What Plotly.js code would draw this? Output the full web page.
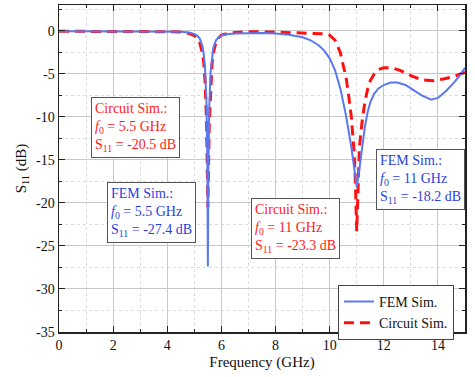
<!DOCTYPE html>
<html><head><meta charset="utf-8">
<script src="https://cdn.plot.ly/plotly-3.0.1.min.js"></script>
<style>html,body{margin:0;padding:0;background:#fff}#chart{width:475px;height:377px}</style>
</head><body><div id="chart"></div>
<script>
const femFreq = [0,1,2,3,4,4.5,4.8,5.0,5.1,5.2,5.3,5.35,5.4,5.45,5.48,5.5,5.52,5.55,5.6,5.65,5.7,5.8,5.9,6.0,6.2,6.5,7,7.5,8,8.5,9,9.3,9.6,9.8,10,10.2,10.4,10.6,10.8,10.9,11.0,11.1,11.2,11.3,11.4,11.5,11.65,11.8,12.0,12.25,12.5,12.8,13.1,13.4,13.75,14.0,14.3,14.6,14.8,15];
const femS11 = [-0.05,-0.05,-0.05,-0.05,-0.08,-0.12,-0.2,-0.35,-0.55,-0.9,-1.8,-2.8,-4.5,-8.5,-15,-27.4,-16,-9,-4.8,-3,-2,-1.1,-0.75,-0.55,-0.4,-0.3,-0.25,-0.25,-0.3,-0.45,-0.75,-1.1,-1.7,-2.3,-3.2,-4.6,-6.8,-9.8,-13.5,-16,-18.2,-16,-13.5,-11.2,-9.5,-8.3,-7.3,-6.7,-6.3,-6.0,-6.0,-6.3,-6.9,-7.5,-8.0,-7.8,-7.0,-6.0,-5.2,-4.3];
const cirFreq = [0,1,2,3,4,4.5,4.8,5.0,5.1,5.2,5.3,5.35,5.4,5.45,5.5,5.55,5.6,5.65,5.7,5.8,5.9,6.0,6.3,6.6,7,8,9,9.5,9.8,10,10.1,10.2,10.3,10.4,10.5,10.6,10.7,10.8,10.9,10.95,11.0,11.05,11.1,11.2,11.3,11.4,11.5,11.65,11.8,12.0,12.3,12.6,13.0,13.4,13.8,14.2,14.6,15];
const cirS11 = [-0.05,-0.05,-0.05,-0.05,-0.1,-0.15,-0.3,-0.55,-0.85,-1.4,-2.6,-3.8,-6,-10.5,-20.5,-11,-6.5,-4,-2.6,-1.3,-0.8,-0.5,-0.25,-0.15,-0.1,-0.15,-0.25,-0.3,-0.35,-0.5,-0.75,-1.1,-1.8,-2.6,-4,-5.3,-7.5,-10,-14,-17.5,-23.3,-17,-13.5,-10.5,-8.3,-6.8,-5.8,-5.0,-4.5,-4.3,-4.3,-4.6,-5.2,-5.7,-5.8,-5.6,-5.3,-4.8];
const xTickVals = [0,2,4,6,8,10,12,14];
const xTickText = ['0','2','4','6','8','10','12','14'];
const yTickVals = [-35,-30,-25,-20,-15,-10,-5,0];
const yTickText = ['-35','-30','-25','-20','-15','-10','-5','0'];
const seriesNames = ['FEM Sim.','Circuit Sim.'];
const notes = [
  {text:'Circuit Sim.:<br><i>f</i><sub>0</sub> = 5.5 GHz<br>S<sub>11</sub> = -20.5 dB', x:1.2, y:-7.7, c:'#ff1a1a'},
  {text:'FEM Sim.:<br><i>f</i><sub>0</sub> = 5.5 GHz<br>S<sub>11</sub> = -27.4 dB', x:1.76, y:-17.6, c:'#2b3fe0'},
  {text:'Circuit Sim.:<br><i>f</i><sub>0</sub> = 11 GHz<br>S<sub>11</sub> = -23.3 dB', x:7.1, y:-19.4, c:'#ff1a1a'},
  {text:'FEM Sim.:<br><i>f</i><sub>0</sub> = 11 GHz<br>S<sub>11</sub> = -18.2 dB', x:11.7, y:-13.7, c:'#2b3fe0'}
];
const F = 'Liberation Serif, Times New Roman, serif';
const data = [
  {x:cirFreq, y:cirS11, name:seriesNames[1], legendrank:2, type:'scatter', mode:'lines', line:{color:'#ff1010', width:3, dash:'10px,6px'}},
  {x:femFreq, y:femS11, name:seriesNames[0], legendrank:1, type:'scatter', mode:'lines', line:{color:'#5a78f2', width:2}}
];
const axisCommon = {
  showline:true, linecolor:'#222', linewidth:1.5, mirror:'ticks', ticks:'inside', ticklen:6, tickcolor:'#222',
  gridcolor:'#c8c8c8', gridwidth:1, zeroline:false, tickfont:{family:F, size:14, color:'#111'},
};
const layout = {
  width:475, height:377, margin:{l:59, r:10, t:5, b:45},
  paper_bgcolor:'#fff', plot_bgcolor:'#fff', font:{family:F, color:'#111'},
  xaxis:Object.assign({}, axisCommon, {range:[0,15], tickmode:'array', tickvals:xTickVals, ticktext:xTickText,
    minor:{dtick:1, tick0:0, ticks:'inside', ticklen:3, tickcolor:'#222', showgrid:true, gridcolor:'#dcdcdc', griddash:'dot'},
    title:{text:'Frequency (GHz)', font:{family:F, size:15, color:'#111'}, standoff:4}}),
  yaxis:Object.assign({}, axisCommon, {range:[-35,3], tickmode:'array', tickvals:yTickVals, ticktext:yTickText,
    minor:{dtick:2.5, tick0:0, ticks:'inside', ticklen:3, tickcolor:'#222', showgrid:true, gridcolor:'#dcdcdc', griddash:'dot'},
    title:{text:'S<sub>11</sub> (dB)', font:{family:F, size:15, color:'#111'}, standoff:6}}),
  legend:{x:0.687, y:0.144, xanchor:'left', yanchor:'top', bgcolor:'#fff', bordercolor:'#444', borderwidth:1,
    font:{family:F, size:14, color:'#111'}, tracegroupgap:0},
  annotations: notes.map(n => ({text:n.text, x:n.x, y:n.y, xref:'x', yref:'y', xanchor:'left', yanchor:'top',
    showarrow:false, align:'left', font:{family:F, size:14, color:n.c}, bgcolor:'#fff', bordercolor:'#555', borderwidth:1, borderpad:3}))
};
Plotly.newPlot('chart', data, layout, {displayModeBar:false, staticPlot:true});
</script></body></html>
